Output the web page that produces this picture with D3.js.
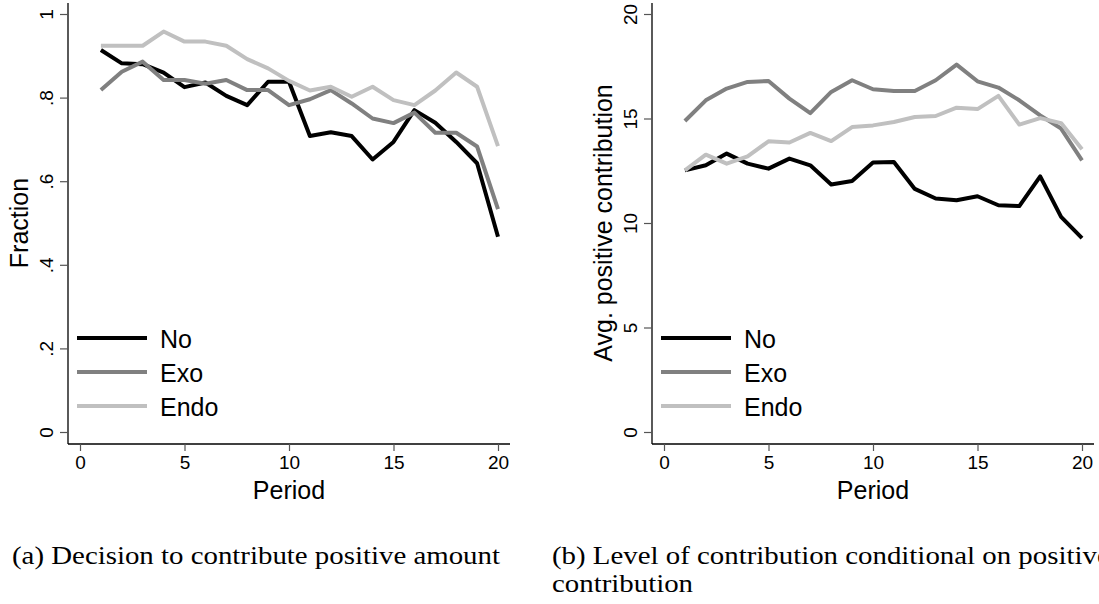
<!DOCTYPE html>
<meta charset="utf-8">
<head>
<style>
body {margin:0; background:white;}
svg text {font-family:"Liberation Sans", Arial, sans-serif; fill:black;}
.caption {font-family:"Liberation Serif", "Times New Roman", serif !important;}
</style>
</head>
<body>
<div id="chart"></div>
<script src="https://d3js.org/d3.v7.min.js"></script>
<script>

// data
const periods = [1,2,3,4,5,6,7,8,9,10,11,12,13,14,15,16,17,18,19,20];
const seriesNames = ["No", "Exo", "Endo"];
const seriesColors = ["#000000", "#808080", "#c0c0c0"];

// (a) fraction contributing a positive amount
const fracNo   = [0.914,0.882,0.880,0.860,0.825,0.836,0.804,0.782,0.838,0.838,0.708,0.717,0.708,0.652,0.694,0.770,0.740,0.694,0.643,0.467];
const fracExo  = [0.818,0.862,0.886,0.842,0.842,0.833,0.842,0.818,0.818,0.782,0.796,0.818,0.786,0.750,0.739,0.764,0.716,0.716,0.683,0.533];
const fracEndo = [0.924,0.924,0.924,0.958,0.934,0.934,0.924,0.892,0.870,0.840,0.817,0.826,0.802,0.826,0.794,0.782,0.817,0.860,0.826,0.684];

// (b) average positive contribution
const avgNo   = [12.52,12.76,13.32,12.84,12.60,13.08,12.76,11.84,12.01,12.89,12.92,11.63,11.17,11.09,11.28,10.85,10.81,12.23,10.29,9.28];
const avgExo  = [14.88,15.87,16.43,16.75,16.79,15.95,15.26,16.27,16.83,16.40,16.32,16.32,16.83,17.58,16.78,16.48,15.87,15.15,14.52,13.00];
const avgEndo = [12.52,13.27,12.84,13.19,13.91,13.85,14.31,13.92,14.59,14.67,14.83,15.07,15.12,15.52,15.45,16.08,14.71,15.02,14.78,13.53];

const xTicks = [0,5,10,15,20];
const fracTicks = [0,0.2,0.4,0.6,0.8,1];
const fracTickLabels = ["0",".2",".4",".6",".8","1"];
const avgTicks = [0,5,10,15,20];
const avgTickLabels = ["0","5","10","15","20"];

const width = 1099, height = 604;

const svg = d3.select("#chart").append("svg")
    .attr("width", width)
    .attr("height", height);

// one panel = axes + three lines + legend
function drawPanel(left, yDomain, ticks, tickLabels, yTitle, series) {
    const pad = 12;
    const x = d3.scaleLinear().domain([0, 20]).range([left + pad, left + pad + 418]);
    const y = d3.scaleLinear().domain(yDomain).range([432, 14]);

    const g = svg.append("g");

    // axis lines, a bit longer than the data range (stata style)
    g.append("line")
        .attr("x1", left).attr("x2", left)
        .attr("y1", 3).attr("y2", 444)
        .attr("stroke", "black").attr("stroke-width", 1.3);
    g.append("line")
        .attr("x1", left).attr("x2", left + pad + 418 + pad)
        .attr("y1", 444).attr("y2", 444)
        .attr("stroke", "black").attr("stroke-width", 1.3);

    // x axis
    const xa = g.append("g")
        .attr("transform", "translate(0,444)")
        .call(d3.axisBottom(x).tickValues(xTicks).tickSize(7).tickSizeOuter(0).tickPadding(5));
    xa.select(".domain").remove();
    xa.selectAll("line").attr("stroke", "#555").attr("stroke-width", 1.2);
    xa.selectAll("text").attr("font-size", 19).attr("fill", "black")
        .attr("font-family", "Liberation Sans, Arial, sans-serif");

    // y axis, labels turned
    const ya = g.append("g")
        .attr("transform", "translate(" + left + ",0)")
        .call(d3.axisLeft(y).tickValues(ticks).tickSize(8).tickSizeOuter(0)
            .tickFormat((d, i) => tickLabels[i]));
    ya.select(".domain").remove();
    ya.selectAll("line").attr("stroke", "#555").attr("stroke-width", 1.2);
    ya.selectAll("text")
        .attr("font-size", 19).attr("fill", "black")
        .attr("font-family", "Liberation Sans, Arial, sans-serif")
        .attr("transform", "rotate(-90)")
        .attr("text-anchor", "middle")
        .attr("x", 0).attr("y", -15).attr("dy", null);

    // titles
    g.append("text")
        .attr("x", (x(0) + x(20)) / 2)
        .attr("y", 499)
        .attr("text-anchor", "middle")
        .attr("font-size", 25)
        .text("Period");
    g.append("text")
        .attr("transform", "translate(" + (left - 40) + "," + ((y.range()[0] + y.range()[1]) / 2) + ") rotate(-90)")
        .attr("text-anchor", "middle")
        .attr("font-size", 25)
        .text(yTitle);

    // lines
    const line = d3.line()
        .x((d, i) => x(periods[i]))
        .y(d => y(d));

    series.forEach((s, k) => {
        g.append("path")
            .datum(s)
            .attr("d", line)
            .attr("fill", "none")
            .attr("stroke", seriesColors[k])
            .attr("stroke-width", 4)
            .attr("stroke-linejoin", "round");
    });

    // legend
    const rows = [338, 372, 406];
    seriesNames.forEach((name, k) => {
        g.append("line")
            .attr("x1", left + 9).attr("x2", left + 79)
            .attr("y1", rows[k]).attr("y2", rows[k])
            .attr("stroke", seriesColors[k])
            .attr("stroke-width", 4);
        g.append("text")
            .attr("x", left + 92)
            .attr("y", rows[k] + 10)
            .attr("font-size", 25)
            .text(name);
    });
}

drawPanel(68, [0, 1], fracTicks, fracTickLabels, "Fraction", [fracNo, fracExo, fracEndo]);
drawPanel(652, [0, 20], avgTicks, avgTickLabels, "Avg. positive contribution", [avgNo, avgExo, avgEndo]);

// captions (serif, like the latex doc)
const capA = svg.append("text").attr("class", "caption")
    .attr("x", 12).attr("y", 564)
    .attr("font-size", 25)
    .text("(a) Decision to contribute positive amount");
const ratio = 488 / capA.node().getComputedTextLength();
capA.attr("textLength", 488).attr("lengthAdjust", "spacingAndGlyphs");

const capB1 = svg.append("text").attr("class", "caption")
    .attr("x", 552).attr("y", 564)
    .attr("font-size", 25)
    .text("(b) Level of contribution conditional on positive");
capB1.attr("textLength", capB1.node().getComputedTextLength() * ratio).attr("lengthAdjust", "spacingAndGlyphs");

const capB2 = svg.append("text").attr("class", "caption")
    .attr("x", 552).attr("y", 592)
    .attr("font-size", 25)
    .text("contribution");
capB2.attr("textLength", capB2.node().getComputedTextLength() * ratio).attr("lengthAdjust", "spacingAndGlyphs");

</script>
</body>
</html>
